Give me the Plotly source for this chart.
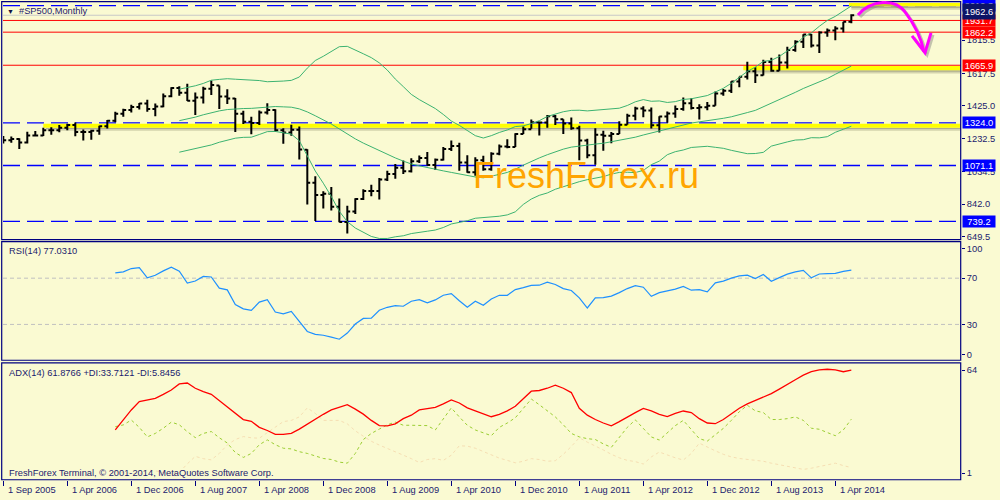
import plotly.graph_objects as go

# ---------------- data (monthly #SP500 bars, index 0 = Aug 2005) ----------------
opens = [1234.2,1220.3,1228.8,1207.0,1249.5,1248.3,1280.1,1280.7,1294.9,1310.6,1270.1,1270.2,1276.7,1303.8,1335.9,1377.9,1400.6,1418.3,1438.2,1406.8,1420.9,1482.4,1530.6,1503.4,1455.3,1474.0,1526.8,1545.8,1481.1,1468.4,1378.6,1330.6,1322.7,1385.6,1400.4,1280.0,1267.4,1282.8,1164.2,968.8,896.2,903.3,825.9,735.1,797.9,872.8,919.1,919.3,987.5,1020.6,1057.1,1036.2,1095.6,1115.1,1073.9,1104.5,1169.4,1186.7,1089.4,1030.7,1101.6,1049.3,1141.2,1183.3,1180.6,1257.6,1286.1,1327.2,1325.8,1363.6,1345.2,1320.6,1292.3,1218.9,1131.4,1253.3,1247.0,1257.6,1312.4,1365.7,1408.5,1397.9,1310.3,1362.2,1379.3,1406.6,1440.7,1412.2,1416.2,1426.2,1498.1,1514.7,1569.2,1597.6,1630.7,1606.3,1685.7,1633.0,1681.6,1756.5,1805.8,1848.4,1782.6,1859.5,1872.3,1884.0,1923.6]
highs = [1245.9,1243.1,1233.3,1270.6,1275.8,1294.9,1297.6,1310.9,1318.2,1326.7,1284.0,1283.4,1306.7,1340.3,1389.5,1407.9,1431.8,1441.6,1461.6,1438.9,1498.0,1535.6,1540.6,1555.9,1503.9,1538.7,1576.1,1545.8,1523.6,1471.8,1396.0,1359.7,1397.0,1440.2,1404.1,1292.2,1313.2,1303.0,1167.0,1007.5,918.9,943.9,875.9,832.1,876.0,930.2,956.2,996.7,1039.5,1080.2,1101.4,1113.7,1130.4,1150.5,1112.4,1180.7,1219.8,1206.3,1131.2,1120.0,1129.2,1148.9,1196.1,1227.1,1262.6,1302.7,1344.1,1332.3,1370.6,1370.6,1345.2,1356.5,1307.4,1229.3,1292.7,1277.6,1269.4,1333.5,1378.0,1419.2,1422.4,1415.3,1363.5,1391.7,1426.7,1474.5,1470.0,1434.3,1448.0,1509.9,1525.0,1570.3,1597.6,1687.2,1654.2,1698.8,1709.7,1729.9,1775.2,1813.6,1849.4,1850.8,1867.9,1884.0,1897.3,1924.0,1968.2]
lows = [1201.1,1205.4,1168.2,1201.1,1246.6,1245.7,1253.6,1268.4,1280.7,1245.3,1219.3,1224.5,1253.3,1290.9,1327.1,1360.1,1385.9,1403.9,1389.7,1363.9,1416.4,1476.7,1484.2,1454.3,1370.6,1439.3,1489.6,1406.1,1435.7,1270.1,1316.8,1256.9,1312.0,1373.1,1272.0,1200.4,1247.5,1106.4,839.8,741.0,815.7,804.5,734.5,666.8,783.3,866.1,888.9,869.3,978.5,991.9,1019.9,1029.4,1085.9,1071.6,1044.5,1101.4,1157.1,1040.5,1028.3,1010.9,1039.7,1039.8,1131.9,1173.0,1180.6,1257.6,1289.1,1249.1,1294.7,1311.8,1258.1,1282.9,1101.5,1114.2,1074.8,1158.7,1202.4,1257.6,1312.4,1340.0,1357.4,1291.0,1266.7,1325.4,1354.7,1396.6,1403.3,1343.4,1398.1,1426.2,1485.0,1501.5,1536.0,1581.3,1560.3,1604.6,1627.5,1633.0,1646.5,1746.2,1767.9,1770.5,1737.9,1834.4,1814.4,1859.8,1915.0]
closes = [1220.3,1228.8,1207.0,1249.5,1248.3,1280.1,1280.7,1294.9,1310.6,1270.1,1270.2,1276.7,1303.8,1335.9,1377.9,1400.6,1418.3,1438.2,1406.8,1420.9,1482.4,1530.6,1503.4,1455.3,1474.0,1526.8,1549.4,1481.1,1468.4,1378.6,1330.6,1322.7,1385.6,1400.4,1280.0,1267.4,1282.8,1166.4,968.8,896.2,903.3,825.9,735.1,797.9,872.8,919.1,919.3,987.5,1020.6,1057.1,1036.2,1095.6,1115.1,1073.9,1104.5,1169.4,1186.7,1089.4,1030.7,1101.6,1049.3,1141.2,1183.3,1180.6,1257.6,1286.1,1327.2,1325.8,1363.6,1345.2,1320.6,1292.3,1218.9,1131.4,1253.3,1247.0,1257.6,1312.4,1365.7,1408.5,1397.9,1310.3,1362.2,1379.3,1406.6,1440.7,1412.2,1416.2,1426.2,1498.1,1514.7,1569.2,1597.6,1630.7,1606.3,1685.7,1633.0,1681.6,1756.5,1805.8,1848.4,1782.6,1859.5,1872.3,1884.0,1923.6,1962.6]

# Bollinger bands, from bar 22 on
bb_upper = [1524,1533,1544,1558,1577,1582,1586,1583,1581,1580,1575,1568,1568,1572,1576,1596,1649,1694,1719,1748,1776,1778,1758,1734,1711,1680,1637,1584,1539,1493,1462,1435,1409,1374,1335,1309,1279,1248,1234,1248,1267,1282,1302,1306,1320,1337,1362,1377,1390,1398,1399,1395,1399,1402,1403,1411,1427,1449,1462,1452,1454,1445,1450,1463,1467,1476,1486,1507,1529,1559,1592,1629,1655,1689,1695,1718,1751,1788,1832,1858,1897,1932,1956,1986,2018]
bb_middle = [1337,1347,1358,1372,1385,1395,1403,1408,1409,1410,1415,1420,1421,1419,1417,1407,1389,1366,1343,1317,1288,1258,1229,1204,1181,1159,1137,1116,1097,1080,1069,1058,1048,1039,1030,1021,1011,1003,998,1006,1018,1030,1049,1073,1096,1116,1135,1153,1168,1180,1187,1191,1198,1203,1211,1220,1229,1239,1252,1264,1276,1290,1301,1313,1323,1330,1336,1343,1351,1360,1371,1385,1398,1419,1440,1459,1481,1505,1528,1547,1566,1587,1612,1636,1661]
bb_lower = [1150,1161,1172,1186,1193,1209,1221,1233,1238,1239,1255,1272,1273,1266,1257,1218,1128,1038,966,887,799,738,700,674,650,638,638,648,654,667,676,681,688,703,724,734,743,758,762,763,770,778,796,840,872,894,908,930,946,962,975,987,997,1005,1020,1030,1031,1029,1042,1076,1097,1135,1153,1163,1178,1183,1185,1179,1173,1161,1150,1141,1142,1149,1186,1200,1211,1222,1224,1236,1235,1242,1268,1286,1304]

# RSI(14), from bar 14 on
rsi = [74.6,75.5,78.3,79.1,70.3,72.5,76.3,79.5,76.0,65.7,67.5,71.5,71.0,61.4,59.9,47.2,43.5,42.1,49.3,51.3,40.7,39.2,41.2,32.1,23.9,21.4,20.6,19.0,17.2,22.5,30.3,35.2,35.5,42.2,44.8,46.2,45.7,50.0,51.4,48.6,51.2,55.2,56.7,50.5,44.8,50.0,46.5,52.0,55.2,55.2,60.1,61.8,63.7,63.9,66.5,64.5,61.0,59.3,53.0,44.2,52.9,53.2,54.5,57.5,61.0,63.6,62.2,54.3,57.5,59.0,60.5,62.8,59.6,60.1,58.1,65.9,67.4,70.0,72.0,72.6,69.7,73.2,67.4,70.5,73.5,75.5,76.7,70.3,73.6,74.0,74.2,75.8,77.0]

# ADX(14), +DI, -DI, from bar 14 on
adx = [27.5,33,39,43.8,44.8,45.7,48,50.5,54,54.5,51.5,49.5,48,44.5,41,37,33.5,32.5,29,27.2,25,25,25.5,28,31,34,36.5,39,40.5,42,39.5,36.6,33,30,29.9,31,34,36,39,39.9,40.5,42.5,44.8,43,40.2,38.5,37,35.1,36.5,38.5,41.1,45.5,49.8,50.2,51.5,53.3,51.5,49,40,36,33.5,31.5,29.9,32.3,35,37.5,39.9,38.5,36.5,35.2,37,38.4,37.5,34,31.5,31.1,33.5,37,40,42.5,44.5,46.5,48.4,51,53.5,56.4,59,61,62,62.4,62,61,61.9]
plus_di = [29.4,30.4,33.2,29,23.5,25.5,28.5,32,30.5,26.5,23.1,25.5,26.6,23,20,14.5,11.7,14,19,21.8,19,17,16.6,15,14,12.5,11.1,10.5,9,8.4,14,22,25.5,28,30.5,32,30.2,30.2,30.2,30,27.5,34,40.2,35,30.2,27.5,26,24.2,29,31.5,34.5,40,45.3,42,38.5,35,30.5,25.5,23.5,22.5,22,19.5,17.5,23,29,33.3,28.5,23.5,21.7,26,30,33,28,22.5,21.1,25,28.4,33,38,41.7,38.5,37.5,33.5,33.5,34,35,33,28.5,27.9,26,24.2,27.5,33.7]
minus_di = [3.5,3,2.5,2,4.5,4,3,2,3,8,12.3,11,10.3,14,18.9,22,23.7,23,22.75,26,29.5,32.3,33,35,40.2,37,33,33,33,31,27,23.9,21,18.8,17,15,13,11,8.8,10.5,11,10,13,18.4,18.2,17,15,13,11.3,10,8.6,9.5,11,10.5,9.5,9.8,13.5,18,23,20.5,18.4,16,13.5,11.5,10,9.3,7.9,12,14.8,13,11.5,10.2,14,19.9,17.5,15.5,13.5,12,11.1,10.7,10.2,9.5,8.4,7.5,6.6,5.5,4.8,5.5,6.6,7.5,8.4,7,5.85]

x_label_text = ["1 Sep 2005","1 Apr 2006","1 Dec 2006","1 Aug 2007","1 Apr 2008","1 Dec 2008","1 Aug 2009",
                "1 Apr 2010","1 Dec 2010","1 Aug 2011","1 Apr 2012","1 Dec 2012","1 Aug 2013","1 Apr 2014"]
x_label_bar = [0, 8, 16, 24, 32, 40, 48, 56, 64, 72, 80, 88, 96, 104]
price_ticks = [649.5, 842.0, 1034.5, 1232.5, 1425.0, 1617.5, 1815.5]
blue_levels = [2019.3, 1324.0, 1071.1, 739.2]
red_levels = [1931.7, 1862.2, 1665.9]
bid_price = 1962.6
# yellow support/resistance bands: (first bar, top price, bottom price)
yellow_bands = [(5.0, 1319.0, 1295.5), (92.5, 1662.0, 1636.0), (105.7, 2044.0, 2016.0)]

# ---------------- style ----------------
BG = "#FAFAD2"
NAVY = "#000080"
TXT = "#1A1A6E"
FONT = "Liberation Sans, Arial, sans-serif"
FS = 9.3

n = len(closes)
xb = list(range(n))
xbb = list(range(n - len(bb_upper), n))
xrsi = list(range(n - len(rsi), n))
xadx = list(range(n - len(adx), n))

fig = go.Figure()

# Bollinger bands
for s in (bb_upper, bb_middle, bb_lower):
    fig.add_trace(go.Scatter(x=xbb, y=s, mode="lines", line=dict(color="#3CB371", width=1),
                             xaxis="x", yaxis="y", hoverinfo="skip", showlegend=False))

# price bars
fig.add_trace(go.Ohlc(x=xb, open=opens, high=highs, low=lows, close=closes,
                      increasing=dict(line=dict(color="black", width=2)),
                      decreasing=dict(line=dict(color="black", width=2)),
                      tickwidth=0.36, xaxis="x", yaxis="y", showlegend=False))

# RSI
fig.add_trace(go.Scatter(x=xrsi, y=rsi, mode="lines", line=dict(color="#1E90FF", width=1.2),
                         xaxis="x", yaxis="y2", showlegend=False))
# ADX
fig.add_trace(go.Scatter(x=xadx, y=minus_di, mode="lines", line=dict(color="#F5DEB3", width=1, dash="3px,3px"),
                         xaxis="x", yaxis="y3", showlegend=False))
fig.add_trace(go.Scatter(x=xadx, y=plus_di, mode="lines", line=dict(color="#9ACD32", width=1, dash="3px,3px"),
                         xaxis="x", yaxis="y3", showlegend=False))
fig.add_trace(go.Scatter(x=xadx, y=adx, mode="lines", line=dict(color="#FF0000", width=1.3),
                         xaxis="x", yaxis="y3", showlegend=False))

shapes = []
# yellow bands with shadow
for x0, top, bot in yellow_bands:
    h = top - bot
    shapes.append(dict(type="rect", xref="x", yref="y", x0=x0 + 0.3, x1=130, y0=bot - 0.75 * h, y1=bot,
                       fillcolor="#8A8A6A", opacity=0.35, line=dict(width=0), layer="below"))
    shapes.append(dict(type="rect", xref="x", yref="y", x0=x0 + 0.3, x1=130, y0=bot - 0.35 * h, y1=bot,
                       fillcolor="#6A6A50", opacity=0.35, line=dict(width=0), layer="below"))
    shapes.append(dict(type="rect", xref="x", yref="y", x0=x0, x1=130, y0=bot, y1=top,
                       fillcolor="#FFFF00", line=dict(width=0), layer="below"))
# bid line
shapes.append(dict(type="line", xref="x domain", yref="y", x0=0, x1=1, y0=bid_price, y1=bid_price,
                   line=dict(color="#C8C8C8", width=1), layer="below"))
for v in red_levels:
    shapes.append(dict(type="line", xref="x domain", yref="y", x0=0, x1=1, y0=v, y1=v,
                       line=dict(color="#FF0000", width=1), layer="below"))
for v in blue_levels:
    shapes.append(dict(type="line", xref="x domain", yref="y", x0=0, x1=1, y0=v, y1=v,
                       line=dict(color="#0000FF", width=1.3, dash="17px,7px"), layer="below"))
for v in (70, 30):
    shapes.append(dict(type="line", xref="x domain", yref="y2", x0=0, x1=1, y0=v, y1=v,
                       line=dict(color="#C0C0C0", width=1, dash="4px,3px"), layer="below"))

# panel frames (pixel -> paper)
def px(xp): return xp / 1000.0
def py(yp): return 1 - yp / 500.0
for top, bot in ((1.7, 240.5), (242.6, 361.7), (364.3, 481.7)):
    shapes.append(dict(type="rect", xref="paper", yref="paper", x0=px(1.7), x1=px(960.7),
                       y0=py(bot), y1=py(top), line=dict(color=NAVY, width=1.2), fillcolor="rgba(0,0,0,0)"))

# hand-drawn magenta arrow (with soft shadow)
def arrow_path(dx, dy):
    pts = [(858, 15), (871, 0), (895, -2), (905, 12), (915, 25), (921, 38), (924, 52)]
    p = [(px(x + dx), py(y + dy)) for x, y in pts]
    s = "M %f,%f C %f,%f %f,%f %f,%f C %f,%f %f,%f %f,%f" % (p[0] + p[1] + p[2] + p[3] + p[4] + p[5] + p[6])
    head = [(912, 36), (925, 53), (931, 33)]
    h = [(px(x + dx), py(y + dy)) for x, y in head]
    s2 = "M %f,%f L %f,%f L %f,%f" % (h[0] + h[1] + h[2])
    return s, s2
for dx, dy, col, op in ((2, 2, "#808080", 0.45), (0, 0, "#FF00FF", 1.0)):
    s, s2 = arrow_path(dx, dy)
    shapes.append(dict(type="path", xref="paper", yref="paper", path=s, line=dict(color=col, width=3), opacity=op))
    shapes.append(dict(type="path", xref="paper", yref="paper", path=s2, line=dict(color=col, width=3), opacity=op))

annotations = []
# x-axis labels (right of tick)
for i, t in zip(x_label_bar, x_label_text):
    annotations.append(dict(x=i, xref="x", y=py(491.5), yref="paper", text=t, showarrow=False,
                            xanchor="left", yanchor="middle", xshift=3,
                            font=dict(family=FONT, size=FS, color=TXT)))
# price level boxes (last one = current price label, drawn on top)
boxes = [(739.2, "#0000FF", 10, 0), (1071.1, "#0000FF", 10, 0), (1324.0, "#0000FF", 10, 0),
         (1665.9, "#FF0000", 10, 0), (1862.2, "#FF0000", 10, 0), (2019.3, "#0000FF", 10, 0),
         (1931.7, "#FF0000", 10, 0), (1962.6, "#0C1466", 14, 3.5)]
for v, col, hgt, ysh in boxes:
    annotations.append(dict(x=px(961.5), xref="paper", y=v, yref="y", text="%.1f" % v, showarrow=False,
                            xanchor="left", yanchor="middle", bgcolor=col, width=31, height=hgt, borderpad=0.5,
                            yshift=ysh, font=dict(family=FONT, size=FS, color="white")))
# texts
annotations += [
    dict(x=px(10), y=py(11.5), xref="paper", yref="paper", text="▼", showarrow=False, xanchor="center",
         yanchor="middle", font=dict(family=FONT, size=7, color="#101040")),
    dict(x=px(17), y=py(11.5), xref="paper", yref="paper", text="#SP500,Monthly", showarrow=False,
         xanchor="left", yanchor="middle", font=dict(family=FONT, size=FS, color=TXT)),
    dict(x=px(7), y=py(252.5), xref="paper", yref="paper", text="RSI(14) 77.0310", showarrow=False,
         xanchor="left", yanchor="middle", font=dict(family=FONT, size=FS, color=TXT)),
    dict(x=px(7), y=py(374), xref="paper", yref="paper", text="ADX(14) 61.8766 +DI:33.7121 -DI:5.8456",
         showarrow=False, xanchor="left", yanchor="middle", font=dict(family=FONT, size=FS, color=TXT)),
    dict(x=px(7), y=py(475), xref="paper", yref="paper",
         text="FreshForex Terminal, © 2001-2014, MetaQuotes Software Corp.", showarrow=False,
         xanchor="left", yanchor="middle", font=dict(family=FONT, size=FS, color=TXT)),
    dict(x=px(471), y=py(176), xref="paper", yref="paper", text="FreshForex.ru", showarrow=False,
         xanchor="left", yanchor="middle", font=dict(family=FONT, size=36, color="#FFA500")),
]

axis_common = dict(showgrid=False, zeroline=False, showline=False, ticks="outside", tickcolor=NAVY,
                   tickfont=dict(family=FONT, size=FS, color=TXT))
fig.update_layout(
    width=1000, height=500, autosize=False,
    margin=dict(l=0, r=0, t=0, b=0),
    paper_bgcolor=BG, plot_bgcolor=BG,
    showlegend=False, dragmode=False,
    xaxis=dict(domain=[0.003, 0.961], range=[-0.0375, 119.71], anchor="y3", showgrid=False, zeroline=False,
               showline=False, ticks="outside", ticklen=5, tickcolor=NAVY, tickvals=x_label_bar,
               showticklabels=False, rangeslider=dict(visible=False), fixedrange=True),
    yaxis=dict(domain=[py(241), py(3)], range=[628.7, 2035.3], side="right", anchor="x",
               tickvals=price_ticks, ticktext=["%.1f" % v for v in price_ticks], ticklen=3, fixedrange=True,
               **axis_common),
    yaxis2=dict(domain=[py(361.7), py(243.3)], range=[-1, 101], side="right", anchor="x",
                tickvals=[95.3, 70, 30, 4.1], ticktext=["100", "70", "30", "0"], ticklen=3, fixedrange=True,
                **axis_common),
    yaxis3=dict(domain=[py(481.7), py(364.3)], range=[-1.15, 66.1], side="right", anchor="x",
                tickvals=[61.9, 2.7], ticktext=["64", "1"], ticklen=3, fixedrange=True, **axis_common),
    shapes=shapes, annotations=annotations,
)
fig.write_html("out.html", config=dict(displayModeBar=False, staticPlot=True),
               post_script="document.body.style.margin='0px';document.body.style.padding='0px';"
                           "document.body.style.overflow='hidden';document.body.style.background='" + BG + "';")
